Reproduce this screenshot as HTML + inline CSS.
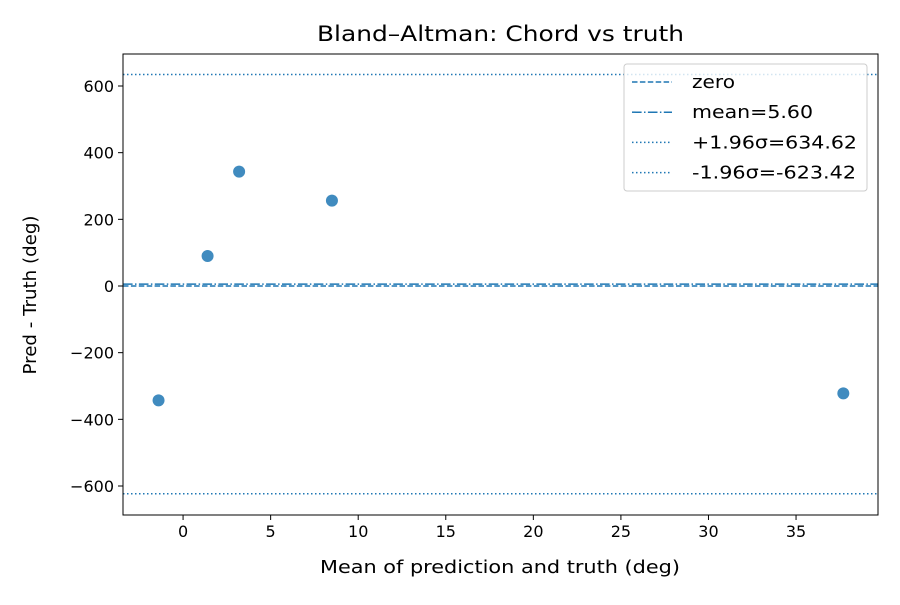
<!DOCTYPE html>
<html><head><meta charset="utf-8"><style>
body{margin:0;background:#fff;font-family:"Liberation Sans","DejaVu Sans",sans-serif;}
svg text{font-family:"DejaVu Sans","Liberation Sans",sans-serif;}
</style></head><body>
<svg id="c" width="900" height="600" xmlns="http://www.w3.org/2000/svg"></svg>
<script>
const pointX = [-1.4, 1.4, 3.2, 8.5, 37.7];
const pointY = [-343, 90, 343, 256, -322];
const xTicks = [0,5,10,15,20,25,30,35];
const yTicks = [-600,-400,-200,0,200,400,600];
const yTickLabels = ["−600","−400","−200","0","200","400","600"];
const meanDiff = 5.60;
const upperLoA = 634.62;
const lowerLoA = -623.42;
const legendLabels = ["zero","mean=5.60","+1.96σ=634.62","-1.96σ=-623.42"];
const legendWidths = [43,121,165,164];

const L=123,R=878,T=54,B=515;
const xMin=-3.43,xMax=39.68,yMin=-687,yMax=696;
const sx=v=>L+(v-xMin)/(xMax-xMin)*(R-L);
const sy=v=>B-(v-yMin)/(yMax-yMin)*(B-T);
const svg=document.getElementById('c');
const NS='http://www.w3.org/2000/svg';
function mk(tag,attrs,parent){const e=document.createElementNS(NS,tag);for(const k in attrs)e.setAttribute(k,attrs[k]);(parent||svg).appendChild(e);return e;}
const C='#1f77b4';
function hline(v,dash,name){const l=mk('line',{x1:L,x2:R,y1:sy(v),y2:sy(v),stroke:C,'stroke-width':1.5,'stroke-dasharray':dash});

}
hline(0,'5.5,2.4','zero-line');
hline(meanDiff,'9.6,2.4,1.5,2.4','mean-line');
hline(upperLoA,'1.5,2.5','upper-loa-line');
hline(lowerLoA,'1.5,2.5','lower-loa-line');
pointX.forEach((x,i)=>{const c=mk('circle',{cx:sx(x),cy:sy(pointY[i]),r:6,fill:C,'fill-opacity':0.85});

});
const frame=mk('rect',{x:L,y:T,width:R-L,height:B-T,fill:'none',stroke:'#000','stroke-width':1});


xTicks.forEach(t=>{const x=sx(t);mk('line',{x1:x,x2:x,y1:B,y2:B+5,stroke:'#000'});
const tx=mk('text',{x:x,y:B+22,'text-anchor':'middle','font-size':16});tx.textContent=t;

});
yTicks.forEach((t,i)=>{const y=sy(t);mk('line',{x1:L-5,x2:L,y1:y,y2:y,stroke:'#000'});
const tx=mk('text',{x:L-9,y:y+6,'text-anchor':'end','font-size':16});tx.textContent=yTickLabels[i];

});
const title=mk('text',{x:(L+R)/2-183.5,y:41,'font-size':21.5,textLength:367,lengthAdjust:'spacingAndGlyphs'});title.textContent='Bland–Altman: Chord vs truth';


const xt=mk('text',{x:320,y:573,'font-size':18,textLength:360,lengthAdjust:'spacingAndGlyphs'});xt.textContent='Mean of prediction and truth (deg)';


const yt=mk('text',{x:-79.5,y:0,'font-size':18,textLength:159,lengthAdjust:'spacingAndGlyphs',transform:`translate(36,${295}) rotate(-90)`});yt.textContent='Pred - Truth (deg)';


const lg=mk('g',{});


mk('rect',{x:624,y:64,width:243,height:127,rx:3,fill:'#fff','fill-opacity':0.8,stroke:'#ccc'},lg);
const dashes=['5.5,2.4','9.6,2.4,1.5,2.4','1.5,2.5','1.5,2.5'];
legendLabels.forEach((s,i)=>{const y=82+i*30.2;
mk('line',{x1:632,x2:672,y1:y,y2:y,stroke:C,'stroke-width':1.5,'stroke-dasharray':dashes[i]},lg);
const tx=mk('text',{x:692,y:y+6,'font-size':18,textLength:legendWidths[i],lengthAdjust:'spacingAndGlyphs'},lg);tx.textContent=s;

});
</script>
</body></html>
